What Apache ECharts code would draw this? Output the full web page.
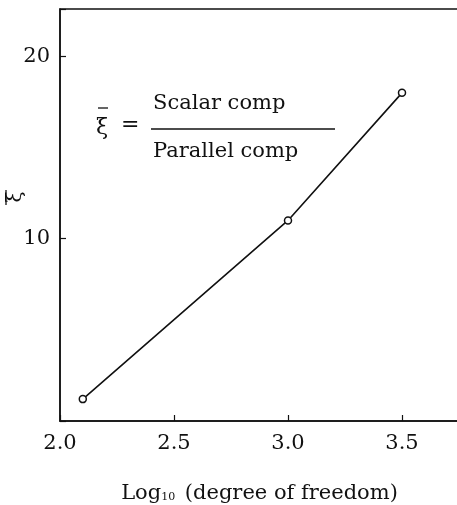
<!DOCTYPE html>
<html>
<head>
<meta charset="utf-8">
<script src="https://cdn.jsdelivr.net/npm/echarts@6/dist/echarts.min.js"></script>
<style>
  html, body { margin: 0; padding: 0; background: #fff; }
  #chart { width: 457px; height: 505px; }
</style>
</head>
<body>
<div id="chart"></div>
<script>
// log10 of degrees of freedom vs ratio
var logDof = [2.1, 3.0, 3.5];
var xiRatio = [1.2, 11, 18];
var xTicks = [2.0, 2.5, 3.0, 3.5];
var yTicks = [10, 20];

var serif = "'DejaVu Serif', 'Liberation Serif', serif";

var chart = echarts.init(document.getElementById('chart'));
var option = {
  animation: false,
  grid: {
    left: 60,
    top: 9,
    right: -2,
    bottom: 84,
    outerBoundsMode: 'none',
    containLabel: false,
    show: true,
    borderColor: '#111',
    borderWidth: 1.5,
    backgroundColor: 'transparent'
  },
  xAxis: {
    type: 'value',
    min: 2.0,
    max: 3.75,
    interval: 0.5,
    name: 'Log{sub|10} (degree of freedom)',
    nameLocation: 'middle',
    nameGap: 62,
    nameTextStyle: {
      fontFamily: serif,
      fontSize: 21,
      color: '#111',
      rich: {
        sub: { fontFamily: serif, fontSize: 11, color: '#111', padding: [8, 3, 0, 0] }
      }
    },
    axisLine: { lineStyle: { color: '#111', width: 1.5 } },
    axisTick: { inside: true, length: 6, lineStyle: { color: '#111', width: 1.2 } },
    splitLine: { show: false },
    axisLabel: {
      margin: 12,
      fontFamily: serif,
      fontSize: 21,
      color: '#111',
      formatter: function (v) {
        return xTicks.indexOf(v) >= 0 ? v.toFixed(1) : '';
      }
    }
  },
  yAxis: {
    type: 'value',
    min: 0,
    max: 22.6,
    interval: 10,
    axisLine: { lineStyle: { color: '#111', width: 1.5 } },
    axisTick: { inside: true, length: 6, lineStyle: { color: '#111', width: 1.2 } },
    splitLine: { show: false },
    axisLabel: {
      margin: 10,
      fontFamily: serif,
      fontSize: 21,
      color: '#111',
      formatter: function (v) {
        return yTicks.indexOf(v) >= 0 ? String(v) : '';
      }
    }
  },
  series: [
    {
      type: 'line',
      data: logDof.map(function (x, i) { return [x, xiRatio[i]]; }),
      lineStyle: { color: '#111', width: 1.6 },
      symbol: 'circle',
      symbolSize: 7,
      itemStyle: { color: '#fff', borderColor: '#111', borderWidth: 1.5 }
    }
  ],
  graphic: [
    // y axis title: xi-bar, rotated
    {
      type: 'text',
      x: 16,
      y: 197,
      rotation: Math.PI / 2,
      style: { text: 'ξ', font: '20px ' + serif, fill: '#111', align: 'center', verticalAlign: 'middle' }
    },
    {
      type: 'line',
      shape: { x1: 6, y1: 190, x2: 6, y2: 205 },
      style: { stroke: '#111', lineWidth: 1.3 }
    },
    // formula
    {
      type: 'text',
      left: 96,
      top: 117,
      style: { text: 'ξ', font: '22px ' + serif, fill: '#111' }
    },
    {
      type: 'line',
      shape: { x1: 98, y1: 108, x2: 108, y2: 108 },
      style: { stroke: '#111', lineWidth: 1.3 }
    },
    {
      type: 'text',
      left: 121,
      top: 114,
      style: { text: '=', font: '22px ' + serif, fill: '#111' }
    },
    {
      type: 'text',
      left: 153,
      top: 93,
      style: { text: 'Scalar comp', font: '21px ' + serif, fill: '#111' }
    },
    {
      type: 'line',
      shape: { x1: 151, y1: 129, x2: 335, y2: 129 },
      style: { stroke: '#111', lineWidth: 1.3 }
    },
    {
      type: 'text',
      left: 153,
      top: 141,
      style: { text: 'Parallel comp', font: '21px ' + serif, fill: '#111' }
    }
  ]
};
chart.setOption(option);
</script>
</body>
</html>
